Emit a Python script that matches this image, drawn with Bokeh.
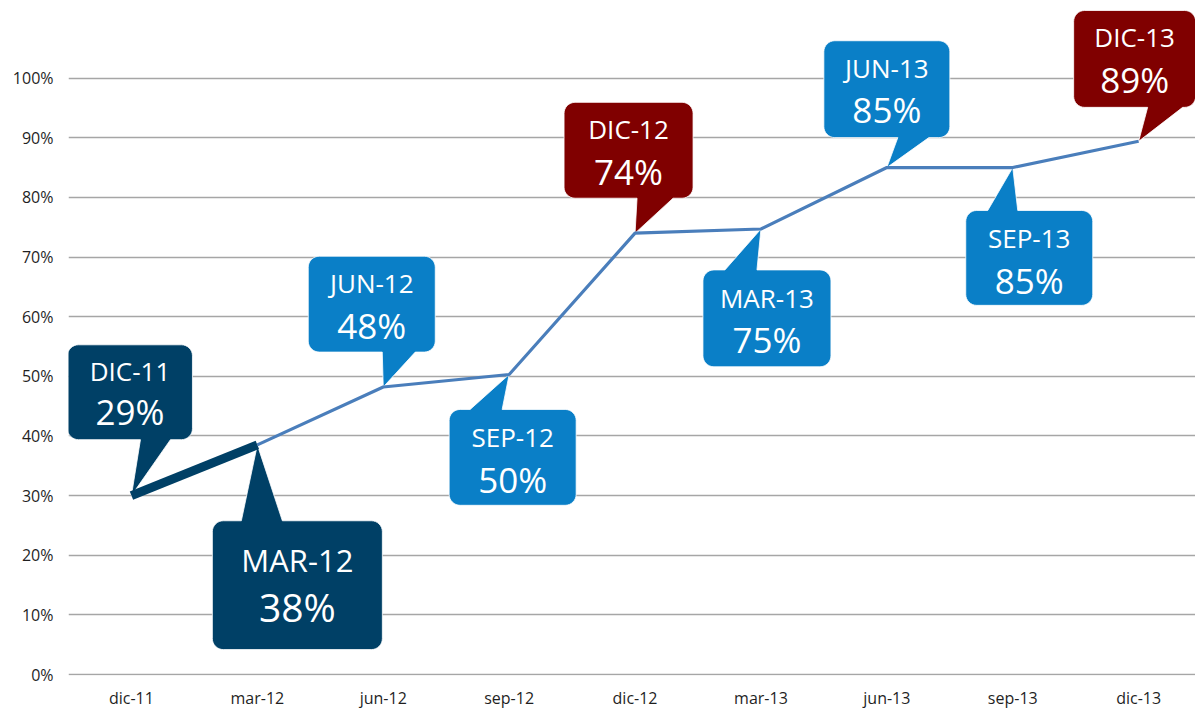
import math
from bokeh.plotting import figure
from bokeh.models import FixedTicker, NumeralTickFormatter, Range1d
from bokeh.core.properties import value
from bokeh.embed import file_html
from bokeh.resources import INLINE

# ---------------- data ----------------
months = ["dic-11", "mar-12", "jun-12", "sep-12", "dic-12", "mar-13", "jun-13", "sep-13", "dic-13"]
values = [0.30, 0.385, 0.482, 0.503, 0.74, 0.747, 0.85, 0.85, 0.894]
callout_names = ["DIC-11", "MAR-12", "JUN-12", "SEP-12", "DIC-12", "MAR-13", "JUN-13", "SEP-13", "DIC-13"]
callout_pcts = ["29%", "38%", "48%", "50%", "74%", "75%", "85%", "85%", "89%"]
y_ticks = [0.0, 0.1, 0.2, 0.3, 0.4, 0.5, 0.6, 0.7, 0.8, 0.9, 1.0]

# ---------------- style ----------------
NAVY = "#004066"
BLUE = "#0A7FC7"
RED = "#800000"
LINE_BLUE = "#4A7EBB"
callout_colors = [NAVY, NAVY, BLUE, BLUE, RED, BLUE, BLUE, BLUE, RED]

# callout geometry in screen pixels relative to the data point (y down):
# left, right, top, bottom, pointer side, pointer base x0, x1, label size, value size, label dy, value dy
callout_geom = [
    (-64, 61, -151, -56, "bottom", 9, 39, 26, 35, 26, 67),
    (-45, 125, 76, 205, "top", -16, 25, 31, 39, 39, 86),
    (-75, 52, -131, -35, "bottom", -1, 32, 26, 35, 27, 69),
    (-60, 67, 35, 131, "top", -39, -7, 26, 35, 28, 70),
    (-71, 58, -131, -35, "bottom", 2, 38, 26, 35, 27, 69),
    (-58, 70, 41, 138, "top", -36, -4, 26, 35, 28, 70),
    (-63, 63, -127, -30, "bottom", 11, 42, 26, 35, 27, 69),
    (-47, 80, 43, 138, "top", -25, 5, 26, 35, 28, 70),
    (-65, 57, -131, -34, "bottom", 9, 44, 26, 35, 27, 69),
]

W, H = 1195, 711
BL, BB, BT, BR = 68, 35, 0, 0
frame_w = W - BL - BR
frame_h = H - BB - BT
PX_X = 125.9          # px per category
PX_Y = 597.3          # px per 100%
ZERO_Y = 675          # screen y of 0%
x0 = -0.5
x1 = x0 + frame_w / PX_X
y_top = (ZERO_Y - BT) / PX_Y
y_bot = y_top - frame_h / PX_Y

p = figure(width=W, height=H, output_backend="svg", toolbar_location=None,
           x_range=Range1d(x0, x1), y_range=Range1d(y_bot, y_top),
           min_border_left=BL, min_border_right=BR, min_border_top=BT, min_border_bottom=BB)
p.outline_line_color = None
p.background_fill_color = "white"
p.border_fill_color = "white"

# axes
p.yaxis.ticker = FixedTicker(ticks=y_ticks)
p.yaxis.formatter = NumeralTickFormatter(format="0%")
p.xaxis.ticker = FixedTicker(ticks=list(range(len(months))))
p.xaxis.major_label_overrides = {i: m for i, m in enumerate(months)}
for ax in (p.xaxis, p.yaxis):
    ax.axis_line_color = None
    ax.major_tick_line_color = None
    ax.minor_tick_line_color = None
    ax.major_tick_out = 0
    ax.major_tick_in = 0
    ax.major_label_text_font = "Open Sans"
    ax.major_label_text_font_size = "16px"
    ax.major_label_text_color = "#1f1f1f"
p.yaxis.major_label_standoff = 15
p.xaxis.major_label_standoff = 11
p.xgrid.grid_line_color = None
p.ygrid.grid_line_color = "#A6A6A6"
p.ygrid.grid_line_width = 1.3


def callout_polygon(geom, rad=11):
    l, r, t, b, side, b0, b1 = geom[:7]
    pts = []

    def arc(cx, cy, a0, a1, n=8):
        for k in range(n + 1):
            a = math.radians(a0 + (a1 - a0) * k / n)
            pts.append((cx + rad * math.cos(a), cy + rad * math.sin(a)))

    arc(l + rad, t + rad, 180, 270)
    if side == "top":
        pts += [(b0, t), (0, 0), (b1, t)]
    arc(r - rad, t + rad, 270, 360)
    arc(r - rad, b - rad, 0, 90)
    if side == "bottom":
        pts += [(b1, b), (0, 0), (b0, b)]
    arc(l + rad, b - rad, 90, 180)
    return pts


xs_list, ys_list = [], []
for i, (v, g) in enumerate(zip(values, callout_geom)):
    poly = callout_polygon(g)
    xs_list.append([i + px / PX_X for px, py in poly])
    ys_list.append([v - py / PX_Y for px, py in poly])

p.patches(xs_list, ys_list, fill_color=callout_colors, line_color="white", line_width=0.8)

# lines
idx = list(range(len(months)))
p.line(idx[1:], values[1:], line_color=LINE_BLUE, line_width=3.2)
p.line(idx[:2], values[:2], line_color=NAVY, line_width=9, line_cap="butt")

# callout texts
for i, (v, g) in enumerate(zip(values, callout_geom)):
    l, r, t, b, side, b0, b1, ls, vs, ldy, vdy = g
    cx = i + ((l + r) / 2) / PX_X
    p.text([cx], [v - (t + ldy) / PX_Y], text=[callout_names[i]],
           text_color="white", text_font=value("Open Sans"),
           text_font_size=f"{ls}px", text_align="center", text_baseline="middle")
    p.text([cx], [v - (t + vdy) / PX_Y], text=[callout_pcts[i]],
           text_color="white", text_font=value("Open Sans"),
           text_font_size=f"{vs}px", text_align="center", text_baseline="middle")

open("out.html", "w").write(file_html(p, INLINE))
